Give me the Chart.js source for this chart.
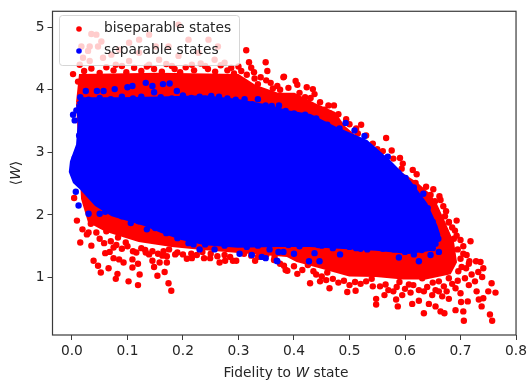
<!DOCTYPE html>
<html>
<head>
<meta charset="utf-8">
<script src="https://cdn.jsdelivr.net/npm/chart.js@4/dist/chart.umd.js"></script>
<style>
    html, body { margin: 0; padding: 0; background: #fff; }
    canvas { display: block; filter: blur(0.4px); }
</style>
</head>
<body>
<canvas id="chart" width="530" height="381"></canvas>
<script>
// Values as [fidelity, <W>]. The middle of each cloud is
// saturated, no single point can be read there, so those parts are the traced outlines
const seriesNames = ['biseparable states', 'separable states'];
const xTickValues = [0, 0.1, 0.2, 0.3, 0.4, 0.5, 0.6, 0.7, 0.8];
const yTickValues = [1, 2, 3, 4, 5];

const biseparableOutline = [
    [.011,3.80],[.016,4.22],[.157,4.24],[.299,4.22],[.329,4.05],[.370,3.92],[.400,3.92],[.436,3.76],
    [.472,3.62],[.489,3.40],[.571,2.77],[.619,2.50],[.642,2.32],[.655,2.15],[.668,1.90],[.685,1.55],
    [.690,1.25],[.680,1.08],[.637,1.00],[.596,1.00],[.548,1.04],[.500,1.05],[.447,1.18],[.406,1.28],
    [.388,1.36],[.240,1.47],[.180,1.52],[.121,1.60],[.062,1.76],[.032,1.90],[.020,2.26],[.011,3.80]
];

const separableOutline = [
    [.011,3.77],[.020,3.85],[.085,3.85],[.157,3.86],[.240,3.88],[.299,3.82],[.358,3.72],[.388,3.64],
    [.429,3.58],[.477,3.37],[.530,3.17],[.571,2.85],[.607,2.53],[.637,2.17],[.655,1.82],[.660,1.68],
    [.649,1.46],[.607,1.41],[.548,1.46],[.489,1.49],[.429,1.52],[.370,1.52],[.299,1.51],[.240,1.55],
    [.198,1.63],[.162,1.74],[.133,1.85],[.073,2.01],[.044,2.17],[.018,2.42],[.005,2.53],[-.002,2.69],
    [0,2.85],[.011,3.12],[.014,3.48],[.011,3.77]
];

const biseparablePoints = [
    [.002,4.25],[.011,4.13],[.035,4.89],[.044,4.88],[.053,4.77],[.017,4.69],[.032,4.69],[.047,4.69],
    [.029,4.62],[.020,4.51],[.014,4.40],[.032,4.46],[.056,4.51],[.071,4.56],[.085,4.64],[.103,4.75],
    [.121,4.80],[.139,4.88],[.151,4.69],[.174,4.69],[.192,5.04],[.210,4.80],[.246,4.80],[.263,4.69],
    [.228,4.59],[.121,4.59],[.157,4.48],[.192,4.54],[.257,4.48],[.275,4.43],[.314,4.63],[.319,4.44],
    [.349,4.44],[.323,4.35],[.352,4.30],[.382,4.21],[.305,4.30],[.287,4.35],[.240,4.38],[.216,4.40],
    [.103,4.46],[.079,4.40],[.180,4.38],[.139,4.40],[.329,4.18],[.335,4.09],[.370,4.06],[.358,4.11],
    [.381,4.20],[.403,4.14],[.406,4.08],[.423,4.04],[.434,4.01],[.437,3.93],[.447,3.80],[.462,3.75],
    [.472,3.75],[.480,3.61],[.494,3.53],[.521,3.44],[.512,3.38],[.542,3.14],[.566,3.23],[.576,3.03],
    [.591,2.91],[.579,2.90],[.596,2.82],[.594,2.74],[.614,2.72],[.621,2.65],[.619,2.51],[.638,2.45],
    [.651,2.41],[.646,2.32],[.662,2.30],[.664,2.24],[.654,2.22],[.669,2.14],[.674,2.06],[.693,1.91],
    [.679,1.88],[.661,1.93],[.004,2.27],[.009,1.91],[.019,1.77],[.027,1.69],[.015,1.56],[.035,1.51],
    [.034,1.86],[.039,1.27],[.047,1.19],[.052,1.08],[.066,1.15],[.060,1.39],[.068,1.41],[.075,1.48],
    [.075,1.31],[.085,1.29],[.093,1.24],[.082,1.06],[.079,.98],[.102,.94],[.119,.88],[.109,1.29],
    [.109,1.16],[.119,1.22],[.122,1.05],[.116,1.40],[.145,1.27],[.148,1.17],[.154,1.03],[.158,1.24],
    [.171,1.24],[.163,1.35],[.171,1.34],[.167,1.09],[.174,.91],[.179,.79],[.186,1.37],[.207,1.30],
    [.216,1.31],[.238,1.31],[.249,1.31],[.266,1.24],[.276,1.27],[.290,1.27],[.296,1.27],[.323,1.35],
    [.330,1.27],[.364,1.28],[.382,1.19],[.388,1.11],[.097,1.56],[.062,1.74],[.044,1.72],[.083,1.64],
    [.133,1.40],[.139,1.37],[.385,1.12],[.406,1.06],[.429,.91],[.447,.94],[.464,.83],[.440,1.05],
    [.458,.96],[.496,.77],[.511,.79],[.542,.86],[.548,.66],[.548,.57],[.563,.72],[.579,.78],
    [.595,.72],[.584,.65],[.587,.54],[.613,.58],[.625,.63],[.634,.43],[.643,.58],[.661,.78],
    [.664,.46],[.671,.43],[.691,.48],[.655,.54],[.679,.66],[.705,.46],[.706,.31],[.701,.61],
    [.713,.62],[.738,.54],[.733,.65],[.741,.67],[.753,.41],[.757,.31],[.756,.91],[.750,.78],
    [.763,.76],[.729,.78],[.739,1.01],[.741,1.15],[.736,1.25],[.728,1.26],[.716,1.26],[.732,1.09],
    [.726,.94],[.718,1.58],[.705,1.50],[.711,1.36],[.693,1.67],[.702,1.17],[.708,.99],[.691,.83],
    [.667,.70],[.649,.72],[.634,.78],[.679,1.89],[.673,1.73],[.684,1.41],[.696,1.10],[.679,.99],
    [.661,.94],[.607,.89],[.631,.99],
    // upper edge of the red band
    [.022,4.30],[.035,4.34],[.050,4.27],[.062,4.36],[.075,4.31],[.090,4.38],[.098,4.28],[.112,4.35],
    [.125,4.30],[.135,4.37],[.148,4.33],[.162,4.29],[.170,4.41],[.185,4.33],[.195,4.28],[.205,4.36],
    [.220,4.31],[.232,4.42],[.245,4.33],[.258,4.29],[.268,4.39],[.280,4.31],[.292,4.26],[.300,4.37],
    [.315,4.24],[.328,4.28],[.340,4.20],[.350,4.15],[.362,4.02],[.375,4.00],[.390,4.03],[.410,3.95],
    [.420,3.88],[.430,3.87],[.455,3.68],[.465,3.62],[.475,3.55],[.500,3.45],[.515,3.30],[.530,3.27],
    [.550,3.05],[.560,3.02],
    // lower edge on the left
    [.030,1.72],[.050,1.62],[.058,1.55],[.070,1.58],[.080,1.52],[.090,1.46],[.100,1.50],[.110,1.42],
    [.125,1.47],[.132,1.44],[.145,1.42],[.155,1.38],[.165,1.42],[.175,1.45],[.190,1.40],[.200,1.37],
    [.215,1.38],[.225,1.36],[.235,1.41],[.250,1.38],[.262,1.34],[.275,1.36],[.285,1.33],[.310,1.38],
    [.335,1.33],[.350,1.36],[.365,1.33],[.375,1.22],
    // lower right tail
    [.400,1.18],[.415,1.12],[.425,1.20],[.435,1.10],[.450,1.02],[.460,1.08],[.470,.98],[.480,.92],
    [.490,.95],[.500,.88],[.510,.93],[.520,.90],[.530,.94],[.540,.98],[.555,.86],[.565,.89],
    [.570,.80],[.585,.85],[.590,.93],[.600,.82],[.610,.76],[.615,.88],[.625,.80],[.640,.85],
    [.650,.92],[.655,.80],[.670,.86],[.675,.78],[.685,.90],[.695,.95],[.700,.75],[.715,.88],
    [.720,1.05],[.710,1.15],[.715,1.22],[.700,1.30],[.705,1.38],[.695,1.45],[.700,1.60],[.690,1.75],
    [.680,1.60],[.685,1.80],[.672,1.98],[.688,1.62]
];

const separablePoints = [
    [.002,3.60],[.005,3.51],[.008,3.67],[.015,3.88],[.025,3.98],[.045,3.98],[.057,3.98],[.077,4.01],
    [.100,4.04],[.109,4.06],[.133,4.11],[.145,4.06],[.164,4.09],[.176,4.10],[.148,3.96],[.189,3.98],
    [.251,3.90],[.311,3.85],[.335,3.85],[.349,3.75],[.005,2.91],[.014,3.09],[.013,3.27],[.002,2.69],
    [.373,3.75],[.493,3.47],[.482,3.38],[.509,3.35],[.527,3.26],[.571,2.77],[.569,2.93],[.588,2.67],
    [.601,2.59],[.616,2.44],[.633,2.34],[.641,2.11],[.007,2.37],[.012,2.15],[.030,2.02],[.050,2.02],
    [.106,1.87],[.135,1.77],[.230,1.45],[.302,1.38],[.324,1.36],[.342,1.33],[.349,1.31],[.369,1.27],
    [.372,1.41],[.381,1.41],[.356,1.45],[.257,1.45],[.219,1.53],[.370,1.26],[.400,1.38],[.427,1.26],
    [.446,1.26],[.437,1.39],[.444,1.52],[.483,1.37],[.512,1.47],[.532,1.45],[.589,1.32],[.625,1.26],
    [.646,1.36],[.661,1.41],[.655,1.54],[.616,1.37],
    // bumps along the top of the blue cloud
    [.030,3.84],[.050,3.87],[.070,3.85],[.090,3.89],[.110,3.86],[.125,3.89],[.160,3.88],[.180,3.86],
    [.200,3.91],[.215,3.87],[.230,3.89],[.265,3.89],[.280,3.86],[.295,3.84],[.325,3.77],[.360,3.74],
    [.385,3.66],[.400,3.62],[.420,3.60],[.440,3.54],[.460,3.44],[.500,3.24],[.520,3.16],[.545,3.02],
    [.560,2.89],[.580,2.69],[.595,2.59],[.620,2.32],[.650,1.89],[.660,1.62],
    // and along its underside
    [.060,2.05],[.090,1.98],[.120,1.90],[.150,1.79],[.170,1.71],[.190,1.63],[.210,1.55],[.240,1.53],
    [.275,1.51],[.315,1.49],[.335,1.51],[.390,1.52],[.410,1.50],[.450,1.51],[.470,1.47],[.500,1.49],
    [.520,1.46],[.560,1.46],[.580,1.45],[.600,1.41],[.630,1.44],[.650,1.47]
];

const RED = '#ff0000';
const BLUE = '#0000ff';
const TEXT = '#262626';
const FONT = '"DejaVu Sans"';

function toXY(pairs) {
    return pairs.map(p => ({ x: p[0], y: p[1] }));
}

function pointSet(pairs, color, order) {
    return { data: toXY(pairs), order: order, showLine: false, backgroundColor: color,
        borderColor: color, pointRadius: 3.2, pointBorderWidth: 0 };
}

function outlineSet(pairs, color, order) {
    return { data: toXY(pairs), order: order, showLine: true, fill: 'shape', backgroundColor: color,
        borderColor: color, borderWidth: 4, pointRadius: 0, tension: 0 };
}

// Writes a row of [text, italic] pieces centred on (x, y)
function mixedText(ctx, pieces, x, y, angle) {
    ctx.save();
    ctx.translate(x, y);
    ctx.rotate(angle);
    ctx.fillStyle = TEXT;
    ctx.textBaseline = 'middle';
    ctx.textAlign = 'left';
    const fontFor = p => (p[1] ? 'italic ' : '') + '13.8px ' + FONT;
    let total = 0;
    pieces.forEach(p => { ctx.font = fontFor(p); total += ctx.measureText(p[0]).width; });
    let cursor = -total / 2;
    pieces.forEach(p => {
        ctx.font = fontFor(p);
        ctx.fillText(p[0], cursor, 0);
        cursor += ctx.measureText(p[0]).width;
    });
    ctx.restore();
}

const framePlugin = {
    id: 'frame',
    afterDatasetsDraw(chart) {
        const ctx = chart.ctx;
        const a = chart.chartArea;

        // Axes box
        ctx.save();
        ctx.strokeStyle = '#3a3a3a';
        ctx.lineWidth = 1.2;
        ctx.strokeRect(a.left, a.top, a.right - a.left, a.bottom - a.top);

        // Legend, laid over the points like the semi transparent original
        ctx.beginPath();
        ctx.roundRect(59.5, 15.5, 180, 50, 3);
        ctx.fillStyle = 'rgba(255,255,255,0.8)';
        ctx.fill();
        ctx.strokeStyle = 'rgba(204,204,204,0.8)';
        ctx.lineWidth = 1;
        ctx.stroke();

        [[RED, 29], [BLUE, 51]].forEach((row, i) => {
            ctx.beginPath();
            ctx.arc(79, row[1], 2.8, 0, Math.PI * 2);
            ctx.fillStyle = row[0];
            ctx.fill();
            ctx.fillStyle = TEXT;
            ctx.font = '13.8px ' + FONT;
            ctx.textBaseline = 'middle';
            ctx.textAlign = 'left';
            ctx.fillText(seriesNames[i], 104, row[1] - 1);
        });
        ctx.restore();

        mixedText(ctx, [['Fidelity to ', false], ['W', true], [' state', false]], 286, 373, 0);
        mixedText(ctx, [['\u27e8', false], ['W', true], ['\u27e9', false]], 16, 173, -Math.PI / 2);
    }
};

new Chart(document.getElementById('chart'), {
    type: 'scatter',
    data: {
        datasets: [
            pointSet(separablePoints, BLUE, 1),
            outlineSet(separableOutline, BLUE, 2),
            pointSet(biseparablePoints, RED, 3),
            outlineSet(biseparableOutline, RED, 4)
        ]
    },
    options: {
        responsive: false,
        animation: false,
        layout: { padding: { top: 8, right: 8.5, left: 0, bottom: 0 } },
        plugins: { legend: { display: false }, tooltip: { enabled: false } },
        scales: {
            x: {
                type: 'linear',
                min: -0.035,
                max: 0.8,
                afterBuildTicks: axis => { axis.ticks = xTickValues.map(v => ({ value: v })); },
                afterFit: axis => { axis.height = 46; },
                grid: { drawOnChartArea: false, tickLength: 5, tickColor: '#3a3a3a', tickWidth: 1 },
                border: { display: false },
                ticks: {
                    autoSkip: false, maxRotation: 0, color: TEXT, padding: 3,
                    font: { family: FONT, size: 13.8 },
                    callback: v => v.toFixed(1)
                }
            },
            y: {
                type: 'linear',
                min: 0.083,
                max: 5.253,
                afterBuildTicks: axis => { axis.ticks = yTickValues.map(v => ({ value: v })); },
                afterFit: axis => { axis.width = 52.5; },
                grid: { drawOnChartArea: false, tickLength: 5, tickColor: '#3a3a3a', tickWidth: 1 },
                border: { display: false },
                ticks: {
                    autoSkip: false, color: TEXT, padding: 3,
                    font: { family: FONT, size: 13.8 },
                    callback: v => String(v)
                }
            }
        }
    },
    plugins: [framePlugin]
});
</script>
</body>
</html>
